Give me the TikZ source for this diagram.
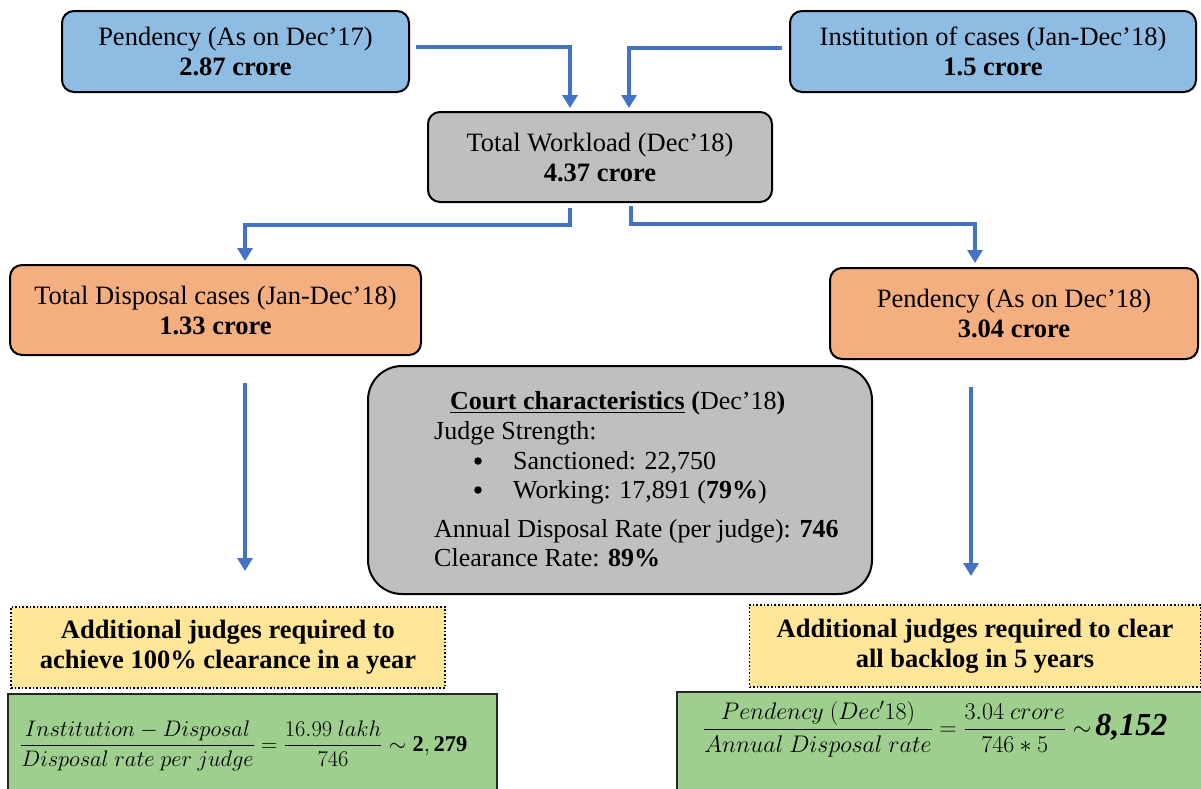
\documentclass[tikz,border=0pt]{standalone}
\usepackage{fix-cm}
\usepackage{amsmath}
\usepackage{fontspec}
\setmainfont{Liberation Serif}
\usetikzlibrary{arrows.meta}
\definecolor{bluefill}{HTML}{8EBCE3}
\definecolor{grayfill}{HTML}{BFBFBF}
\definecolor{orangefill}{HTML}{F4AF80}
\definecolor{yellowfill}{HTML}{FFE699}
\definecolor{greenfill}{HTML}{9FCF8E}
\definecolor{arrowblue}{HTML}{4472C4}
\tikzset{
  basebox/.style={draw=black, line width=2pt, rounded corners=12pt, align=center, inner sep=0pt},
  bluebox/.style={basebox, fill=bluefill},
  graybox/.style={basebox, fill=grayfill},
  orangebox/.style={basebox, fill=orangefill},
  courtbox/.style={basebox, fill=grayfill, rounded corners=34pt},
  yellowbox/.style={draw=black, line width=1.6pt, dotted, fill=yellowfill, align=center, inner sep=0pt},
  greenbox/.style={draw=black!85, line width=2pt, fill=greenfill, inner sep=0pt},
  flow/.style={draw=arrowblue, line width=4.5pt, -{Triangle[width=15pt,length=13pt]}},
  txt/.style={inner sep=0pt, anchor=base west, font=\fontsize{26}{30}\selectfont},
  bul/.style={circle, fill=black, inner sep=0pt, minimum size=7.5pt},
}
\begin{document}
\begin{tikzpicture}[x=1pt,y=-1pt, font=\fontsize{26.5}{30}\selectfont]
\useasboundingbox (0,0) rectangle (1201,788);
\clip (0,0) rectangle (1201,788);
% top boxes
\node[bluebox, minimum width=347pt, minimum height=81pt] (p17) at (235.5,51.5) {Pendency (As on Dec'17)\\\textbf{2.87 crore}};
\node[bluebox, minimum width=406pt, minimum height=81pt] (inst) at (993,51.5) {Institution of cases (Jan-Dec'18)\\\textbf{1.5 crore}};
\node[graybox, minimum width=344pt, minimum height=90pt] (work) at (600,157) {Total Workload (Dec'18)\\\textbf{4.37 crore}};
\node[orangebox, minimum width=411pt, minimum height=90pt] (disp) at (215.5,310) {Total Disposal cases (Jan-Dec'18)\\\textbf{1.33 crore}};
\node[orangebox, minimum width=368pt, minimum height=91pt] (p18) at (1014,313.5) {Pendency (As on Dec'18)\\\textbf{3.04 crore}};
% court box
\node[courtbox, minimum width=504pt, minimum height=228pt] (court) at (620,480) {};
\node[txt] (ct) at (450,409) {\underline{\textbf{Court characteristics}} \textbf{(}Dec'18\textbf{)}};
\node[txt] (js) at (434,439) {Judge Strength:};
\node[bul] (b1) at (478,461) {};
\node[txt] (s1) at (513,469) {Sanctioned: 22,750};
\node[bul] (b2) at (478,490) {};
\node[txt] (s2) at (513,498) {Working: 17,891 (\textbf{79\%})};
\node[txt] (adr) at (434,537) {Annual Disposal Rate (per judge): \textbf{746}};
\node[txt] (cr) at (434,566) {Clearance Rate: \textbf{89\%}};
% yellow boxes
\node[yellowbox, minimum width=434pt, minimum height=81pt] (yl) at (228,647.5) {\textbf{Additional judges required to}\\\textbf{achieve 100\% clearance in a year}};
\node[yellowbox, minimum width=451pt, minimum height=82pt] (yr) at (975,646) {\textbf{Additional judges required to clear}\\\textbf{all backlog in 5 years}};
% green boxes
\node[greenbox, minimum width=489pt, minimum height=110pt] (gl) at (252.5,749) {};
\node[greenbox, minimum width=526pt, minimum height=112pt] (gr) at (940,748) {};
\node[anchor=west, inner sep=0pt, font=\fontsize{22.5}{27}\selectfont] (fl) at (20,746) {$\dfrac{Institution - Disposal}{Disposal\ rate\ per\ judge} \mathrel{=} \dfrac{16.99\ lakh}{746} \mathrel{\sim} \mathbf{2,279}$};
\node[anchor=west, inner sep=0pt, font=\fontsize{24}{28}\selectfont] (fr) at (703,729) {$\dfrac{Pendency\ (Dec'18)}{Annual\ Disposal\ rate} \mathrel{=} \dfrac{3.04\ crore}{746\ast5} \mathrel{\sim}$\,{\fontsize{32}{36}\selectfont\textbf{\textit{8,152}}}};
% connectors
\coordinate (a1s) at (416,47);
\coordinate (a2s) at (782,48);
\draw[flow] (a1s) -- (570,47) -- (570,108);
\draw[flow] (a2s) -- (629,48) -- (629,108);
\coordinate (wl) at (570,208);
\coordinate (wr) at (631,206);
\draw[flow] (wl) -- (570,225) -- (245,225) -- (245,261);
\draw[flow] (wr) -- (631,224) -- (975,224) -- (975,263);
\coordinate (dl) at (245,383);
\coordinate (dr) at (971,387);
\draw[flow] (dl) -- (245,571);
\draw[flow] (dr) -- (971,576);
\end{tikzpicture}
\end{document}
